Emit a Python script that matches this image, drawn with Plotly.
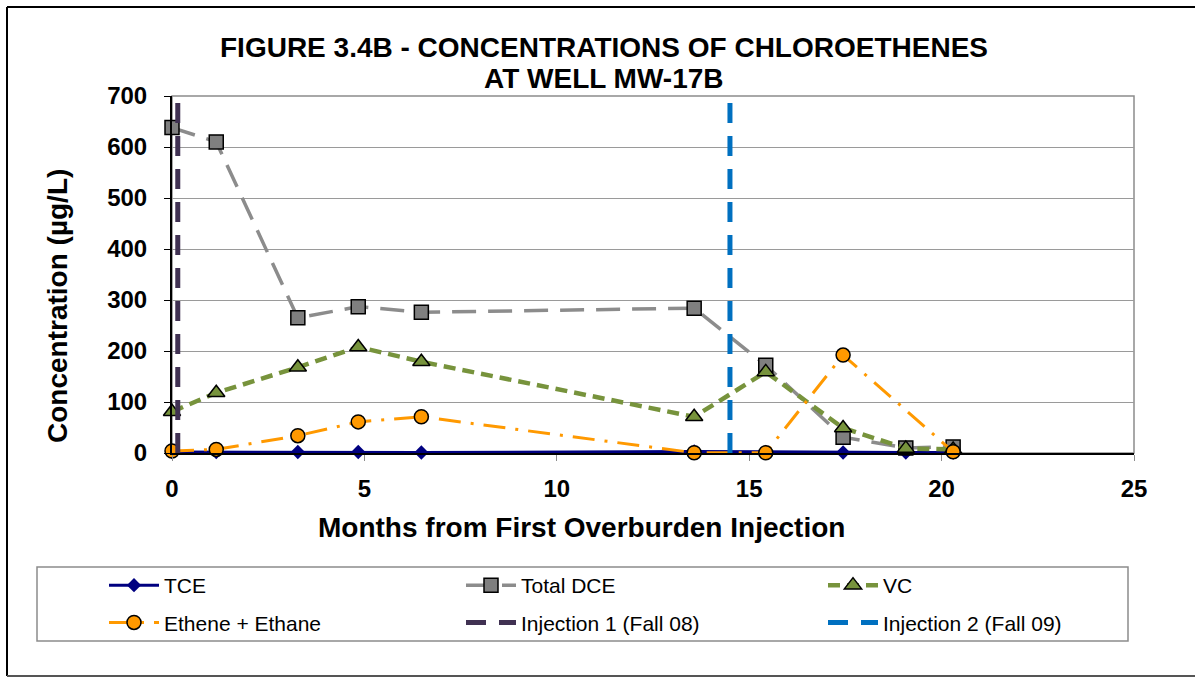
import plotly.graph_objects as go

# ---- data ----
months = [0.0, 1.15, 3.27, 4.84, 6.48, 13.57, 15.43, 17.44, 19.07, 20.3]
tce = [2, 2, 2, 2, 1, 3, 2, 1, 1, 1]
total_dce = [638, 610, 265, 287, 276, 284, 172, 31, 10, 12]
vc = [81, 118, 168, 208, 179, 71, 159, 49, 9, 7]
ethene_ethane = [4, 7, 34, 61, 71, 0.5, 0.5, 192, None, 2.5]

inj1_month = 0.15
inj2_month = 14.5
inj_y = [0, 700]

x_ticks = [0, 5, 10, 15, 20, 25]
y_ticks = [0, 100, 200, 300, 400, 500, 600, 700]

FONT = "Liberation Sans, Arial, sans-serif"

PW, PH = 962.0, 357.0  # plot area size in px
L, T = 172.0, 96.0


def px_x(x):
    return (x - L) / PW


def px_y(y):
    return (T + PH - y) / PH


fig = go.Figure()

fig.add_trace(go.Scatter(
    x=months, y=tce, name="TCE", mode="lines+markers",
    legend="legend", legendgroup="g1",
    line=dict(color="#000080", width=3),
    marker=dict(symbol="diamond", size=11, color="#000080"),
    cliponaxis=False))

fig.add_trace(go.Scatter(
    x=months, y=total_dce, name="Total DCE", mode="lines+markers",
    legend="legend2", legendgroup="g2",
    line=dict(color="#8c8c8c", width=3.5, dash="24px,12px"),
    marker=dict(symbol="square", size=14, color="#7f7f7f",
                line=dict(color="#000000", width=1.5)),
    cliponaxis=False))

fig.add_trace(go.Scatter(
    x=months, y=vc, name="VC", mode="lines+markers",
    legend="legend3", legendgroup="g3",
    line=dict(color="#77933C", width=4.5, dash="12px,7px"),
    marker=dict(symbol="triangle-up", size=15, color="#77933C",
                line=dict(color="#000000", width=1.5)),
    cliponaxis=False))

fig.add_trace(go.Scatter(
    x=months, y=ethene_ethane, name="Ethene + Ethane", mode="lines+markers",
    legend="legend", legendgroup="g4",
    connectgaps=True,
    line=dict(color="#FF9900", width=3, dash="22px,10px,3px,10px"),
    marker=dict(symbol="circle", size=14, color="#FF9900",
                line=dict(color="#000000", width=1.5)),
    cliponaxis=False))

fig.add_trace(go.Scatter(
    x=[inj1_month, inj1_month], y=inj_y, name="Injection 1 (Fall 08)", mode="lines",
    legend="legend2", legendgroup="g5",
    line=dict(color="#403152", width=5, dash="20px,13px"),
    cliponaxis=False))

fig.add_trace(go.Scatter(
    x=[inj2_month, inj2_month], y=inj_y, name="Injection 2 (Fall 09)", mode="lines",
    legend="legend3", legendgroup="g6",
    line=dict(color="#0070C0", width=5, dash="20px,13px"),
    cliponaxis=False))

shapes = [
    # plot area border (gray)
    dict(type="rect", xref="paper", yref="paper", x0=0, x1=1, y0=0, y1=1,
         line=dict(color="#8c8c8c", width=1.5), layer="below"),
    # outer frame (top, left, bottom)
    dict(type="line", xref="paper", yref="paper", x0=px_x(7), x1=px_x(1195),
         y0=px_y(7), y1=px_y(7), line=dict(color="#000000", width=2)),
    dict(type="line", xref="paper", yref="paper", x0=px_x(7), x1=px_x(7),
         y0=px_y(7), y1=px_y(676), line=dict(color="#000000", width=2)),
    dict(type="line", xref="paper", yref="paper", x0=px_x(7), x1=px_x(1195),
         y0=px_y(676), y1=px_y(676), line=dict(color="#555555", width=2)),
    # legend box
    dict(type="rect", xref="paper", yref="paper", x0=px_x(37), x1=px_x(1128),
         y0=px_y(641), y1=px_y(567), line=dict(color="#8c8c8c", width=1.5)),
]

annotations = [
    dict(text="<b>AT WELL MW-17B</b>", xref="paper", yref="paper",
         x=px_x(604), y=px_y(79), showarrow=False, xanchor="center", yanchor="middle",
         font=dict(family=FONT, size=28, color="#000000")),
    dict(text="<b>Months from First Overburden Injection</b>", xref="paper", yref="paper",
         x=px_x(581), y=px_y(527), showarrow=False, xanchor="center", yanchor="middle",
         font=dict(family=FONT, size=28, color="#000000")),
    dict(text="<b>Concentration (µg/L)</b>", xref="paper", yref="paper",
         x=px_x(57), y=px_y(306), showarrow=False, xanchor="center", yanchor="middle",
         textangle=-90, font=dict(family=FONT, size=28, color="#000000")),
]

legend_common = dict(orientation="v", xanchor="left", yanchor="top",
                     bgcolor="rgba(0,0,0,0)", borderwidth=0,
                     font=dict(family=FONT, size=21, color="#000000"),
                     itemwidth=50, tracegroupgap=7, y=px_y(565))

fig.update_layout(
    width=1195, height=677,
    paper_bgcolor="white", plot_bgcolor="white",
    margin=dict(l=172, r=61, t=96, b=224, autoexpand=False),
    title=dict(text="<b>FIGURE 3.4B - CONCENTRATIONS OF CHLOROETHENES</b>",
               x=604 / 1195, xanchor="center", xref="container",
               y=1 - 47 / 677, yanchor="middle", yref="container",
               font=dict(family=FONT, size=28, color="#000000")),
    font=dict(family=FONT, color="#000000"),
    xaxis=dict(range=[0, 25], tickvals=x_ticks, showgrid=False, zeroline=False,
               showline=True, linecolor="#000000", linewidth=2,
               ticks="outside", ticklen=6, tickcolor="#8c8c8c",
               tickfont=dict(family=FONT, size=24, weight="bold", color="#000000"),
               ticklabelstandoff=7),
    yaxis=dict(range=[0, 700], tickvals=y_ticks, showgrid=True, gridcolor="#9a9a9a",
               gridwidth=1.2, zeroline=False,
               showline=True, linecolor="#000000", linewidth=2,
               ticks="outside", ticklen=6, tickcolor="#000000",
               tickfont=dict(family=FONT, size=24, weight="bold", color="#000000"),
               ticklabelstandoff=12),
    legend=dict(x=px_x(104), **legend_common),
    legend2=dict(x=px_x(461), **legend_common),
    legend3=dict(x=px_x(823), **legend_common),
    shapes=shapes,
    annotations=annotations,
    showlegend=True,
)

fig.write_html("out.html", config={"displayModeBar": False},
               post_script="document.body.style.margin='0px';")
